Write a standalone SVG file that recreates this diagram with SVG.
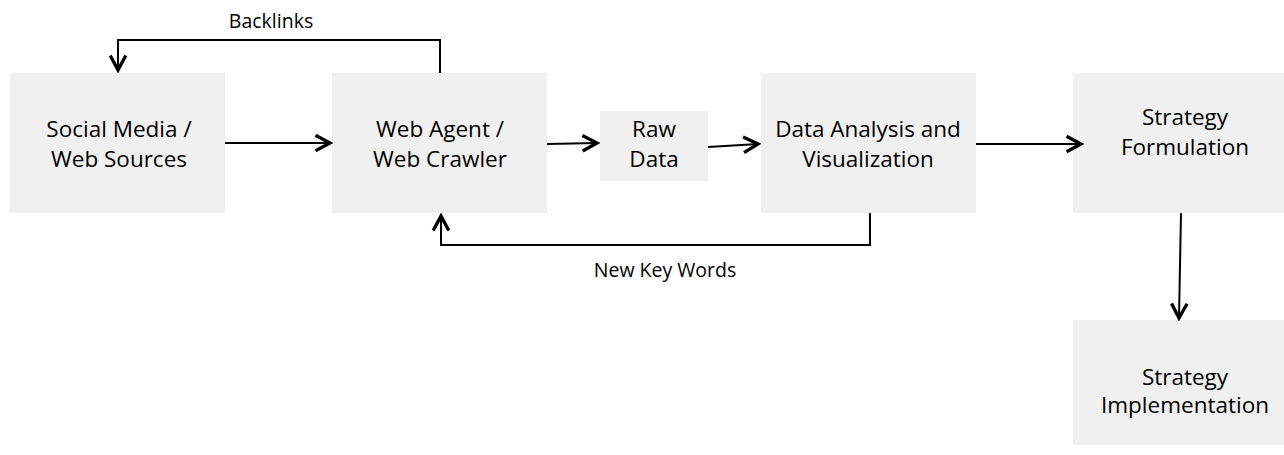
<svg xmlns="http://www.w3.org/2000/svg" width="1284" height="455" viewBox="0 0 1284 455">
<style>
.box{fill:#f0f0f0;stroke:none}
.t{font-family:"Open Sans","Liberation Sans",sans-serif;font-size:22.5px;fill:#000;text-anchor:middle}
.lbl{font-family:"Open Sans","Liberation Sans",sans-serif;font-size:19.5px;fill:#000;text-anchor:middle}
.c{fill:none;stroke:#000;stroke-width:2}
</style>
<defs>
<marker id="ah" markerUnits="userSpaceOnUse" markerWidth="20" markerHeight="20" viewBox="-2 -2 18 18" refX="13" refY="7" orient="auto">
<path d="M0,0 L13,7 L0,14" fill="none" stroke="#000" stroke-width="3" stroke-linejoin="miter"/>
</marker>
</defs>
<rect width="1284" height="455" fill="#fff"/>
<g id="n1"><rect class="box" x="10" y="73" width="215" height="140"/><text class="t" x="119" y="137">Social Media /</text><text class="t" x="119" y="167">Web Sources</text></g>
<g id="n2"><rect class="box" x="332" y="73" width="215" height="140"/><text class="t" x="440" y="137">Web Agent /</text><text class="t" x="440" y="167">Web Crawler</text></g>
<g id="n3"><rect class="box" x="600" y="111" width="108" height="70"/><text class="t" x="654" y="137">Raw</text><text class="t" x="654" y="167">Data</text></g>
<g id="n4"><rect class="box" x="761" y="73" width="215" height="140"/><text class="t" x="868" y="137">Data Analysis and</text><text class="t" x="868" y="167">Visualization</text></g>
<g id="n5"><rect class="box" x="1073" y="73" width="215" height="140"/><text class="t" x="1185" y="125">Strategy</text><text class="t" x="1185" y="155">Formulation</text></g>
<g id="n6"><rect class="box" x="1073" y="320" width="215" height="125"/><text class="t" x="1185" y="385">Strategy</text><text class="t" x="1185" y="413">Implementation</text></g>
<g id="connectors">
<polyline class="c" points="440,73 440,40 118,40 118,70" marker-end="url(#ah)"/>
<line class="c" x1="225" y1="143" x2="330" y2="143" marker-end="url(#ah)"/>
<line class="c" x1="547" y1="144" x2="597" y2="143" marker-end="url(#ah)"/>
<line class="c" x1="708" y1="147" x2="758" y2="144" marker-end="url(#ah)"/>
<line class="c" x1="976" y1="144" x2="1081" y2="144" marker-end="url(#ah)"/>
<polyline class="c" points="870,213 870,245 441,245 441,216" marker-end="url(#ah)"/>
<line class="c" x1="1181" y1="213" x2="1179" y2="318" marker-end="url(#ah)"/>
<text class="lbl" x="271" y="28">Backlinks</text>
<text class="lbl" x="665" y="277">New Key Words</text>
</g>
</svg>
